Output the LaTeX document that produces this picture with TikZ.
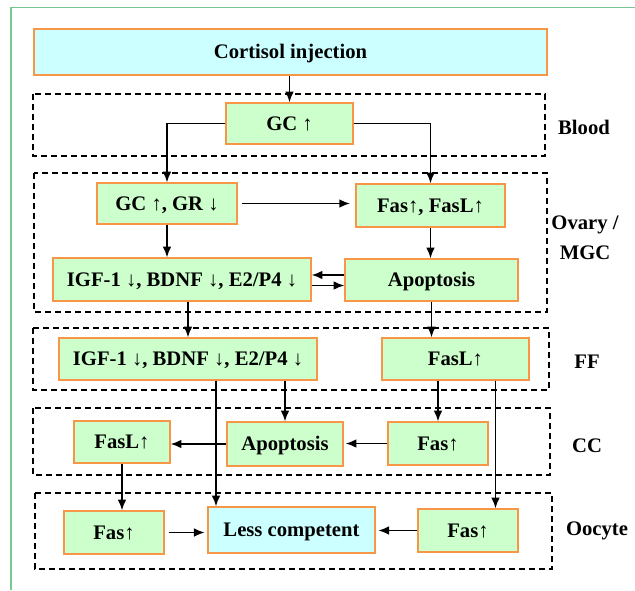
\documentclass[tikz,border=0pt]{standalone}
\usepackage{fontspec}
\setmainfont{Liberation Serif}
\usetikzlibrary{arrows.meta}
\definecolor{boxgreen}{RGB}{204,255,204}
\definecolor{boxcyan}{RGB}{204,255,255}
\definecolor{boxedge}{RGB}{247,150,70}
\definecolor{framegreen}{RGB}{120,200,150}
\tikzset{
  gbox/.style={draw=boxedge, fill=boxgreen, line width=1.1pt, inner sep=0pt,
    text height=10.3pt, text depth=0pt,
    font=\fontsize{15.5}{18}\selectfont\bfseries},
  cbox/.style={gbox, fill=boxcyan},
  sz/.style 2 args={minimum width=#1*0.75pt, minimum height=#2*0.75pt},
  zone/.style={draw, line width=0.9pt, dash pattern=on 4.5pt off 3pt},
  lbl/.style={font=\fontsize{15.5}{22.5}\selectfont\bfseries, align=center},
  arr/.style={-{Latex[length=8pt,width=6.5pt]}, line width=1.1pt},
}
\begin{document}
\begin{tikzpicture}[x=0.75pt,y=-0.75pt]
			%%%%% START %%%%%
			\def\dxigf{21pt}
			\def\dxfasl{30pt}
			\def\dyapo{3.75pt}
			\useasboundingbox (0,0) rectangle (635,590);
			
			\draw[framegreen, line width=1.1pt] (11,590) -- (11,7.5) -- (635,7.5);
			
			% compartments
			\draw[zone] (33,94) rectangle (545,156);
			\draw[zone] (34,173) rectangle (547,312);
			\draw[zone] (33,328) rectangle (549,390);
			\draw[zone] (33,408) rectangle (550,475);
			\draw[zone] (35,493) rectangle (552,569);
			
			\node[lbl] (blood) at (584,127) {Blood};
			\node[lbl] (ovary) at (585,238) {Ovary /\\MGC};
			\node[lbl] (ff) at (587,362) {FF};
			\node[lbl] (cc) at (587,446) {CC};
			\node[lbl] (oocyte) at (597,531) {Oocyte};
			
			% boxes
			\node[cbox, sz={513}{46}] (cortisol) at (290.5,52) {Cortisol injection};
			\node[gbox, sz={127}{41}] (gc) at (289.5,123.5) {GC ↑};
			\node[gbox, sz={140}{41}] (gcgr) at (167,203.5) {GC ↑, GR ↓};
			\node[gbox, sz={149}{43}] (fasone) at (430.5,205.5) {Fas↑, FasL↑};
			\node[gbox, sz={258}{43}] (igfone) at (182,279.5) {IGF-1 ↓, BDNF ↓, E2/P4 ↓};
			\node[gbox, sz={173}{42}] (apoone) at (431.5,280) {Apoptosis};
			\node[gbox, sz={258}{42}] (igftwo) at (188,359) {IGF-1 ↓, BDNF ↓, E2/P4 ↓};
			\node[gbox, sz={147}{42}] (fasltwo) at (455.5,359) {FasL↑};
			\node[gbox, sz={96}{42}] (faslthree) at (122,442) {FasL↑};
			\node[gbox, sz={116}{44}] (apothree) at (285,444) {Apoptosis};
			\node[gbox, sz={100}{43}] (fasthree) at (438,443.5) {Fas↑};
			\node[gbox, sz={100}{43}] (fasleft) at (114,532.5) {Fas↑};
			\node[cbox, sz={167}{46}] (less) at (291.5,530) {Less competent};
			\node[gbox, sz={100}{43}] (fasright) at (468,530.5) {Fas↑};
			
			% arrows
			\draw[arr] (cortisol.south -| gc.north) -- (gc.north);
			\draw[arr] (gc.west) -| (gcgr.north);
			\draw[arr] (gc.east) -| (fasone.north);
			\draw[arr, shorten <=3pt, shorten >=4pt] (gcgr.east) -- (gcgr.east -| fasone.west);
			\draw[arr] (gcgr.south) -- (gcgr.south |- igfone.north);
			\draw[arr] (fasone.south) -- (fasone.south |- apoone.north);
			\draw[arr] ([yshift=\dyapo]apoone.west) -- ([yshift=\dyapo]apoone.west -| igfone.east);
			\draw[arr] ([yshift=-4.5pt]igfone.east) -- ([yshift=-4.5pt]igfone.east -| apoone.west);
			\draw[arr] (igfone.south -| igftwo.north) -- (igftwo.north);
			\draw[arr] (apoone.south) -- (apoone.south |- fasltwo.north);
			\draw[arr] ([xshift=\dxigf]igftwo.south) -- ([xshift=\dxigf]igftwo.south |- less.north);
			\draw[arr] (apothree.north |- igftwo.south) -- (apothree.north);
			\draw[arr] (fasthree.north |- fasltwo.south) -- (fasthree.north);
			\draw[arr] ([xshift=\dxfasl]fasltwo.south) -- ([xshift=\dxfasl]fasltwo.south |- fasright.north);
			\draw[arr, shorten >=1.5pt] (fasthree.west) -- (fasthree.west -| apothree.east);
			\draw[arr] (apothree.west) -- (apothree.west -| faslthree.east);
			\draw[arr] (faslthree.south) -- (faslthree.south |- fasleft.north);
			\draw[arr, shorten <=3pt, shorten >=2pt] (fasleft.east) -- (fasleft.east -| less.west);
			\draw[arr, shorten >=2pt] (fasright.west) -- (fasright.west -| less.east);
			%%%%% END %%%%%
\end{tikzpicture}
\end{document}
